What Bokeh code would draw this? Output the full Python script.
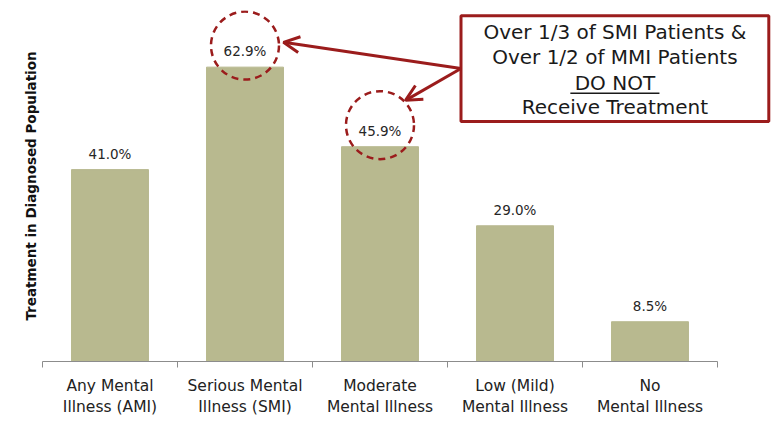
from bokeh.plotting import figure
from bokeh.models import Range1d, FixedTicker, Arrow, OpenHead
from bokeh.core.properties import value
from bokeh.embed import file_html
from bokeh.resources import INLINE

categories = ["Any Mental\nIllness (AMI)", "Serious Mental\nIllness (SMI)",
              "Moderate\nMental Illness", "Low (Mild)\nMental Illness", "No\nMental Illness"]
values = [41.0, 62.9, 45.9, 29.0, 8.5]
value_labels = ["41.0%", "62.9%", "45.9%", "29.0%", "8.5%"]
highlighted = [1, 2]
callout_lines = ["Over 1/3 of SMI Patients &", "Over 1/2 of MMI Patients", "DO NOT", "Receive Treatment"]
y_label = "Treatment in Diagnosed Population"

FONT = "DejaVu Sans"
RED = "#9B1C1C"
BAR = "#B8B98F"

n = len(categories)
xs = [i + 1 for i in range(n)]

p = figure(width=771, height=419, x_range=Range1d(0.5, 5.9), y_range=Range1d(0, 75),
           output_backend="svg", toolbar_location=None,
           min_border_top=10, min_border_bottom=58, min_border_left=42, min_border_right=0)
p.outline_line_color = None
p.xgrid.visible = False
p.ygrid.visible = False

p.vbar(x=xs, top=values, width=0.57, color=BAR)
p.text(x=xs, y=values, text=value_labels, y_offset=-16, text_align="center",
       text_baseline="middle", text_font=value(FONT), text_font_size="13.5px", text_color="#262626")

# highlight circles
hx = [xs[i] for i in highlighted]
hy = [values[i] + 4.6 for i in highlighted]
p.scatter(x=hx, y=hy, size=68, marker="circle", fill_color=None, line_color=RED,
          line_width=2.5, line_dash="7 5")

# callout box
box_l, box_r, box_b, box_t = 3.60, 5.88, 51.3, 73.9
p.quad(left=[box_l], right=[box_r], bottom=[box_b], top=[box_t], fill_color="white",
       line_color=RED, line_width=3)
cx = (box_l + box_r) / 2
line_y = [70.3, 65.0, 59.6, 54.3]
p.text(x=[cx] * 4, y=line_y, text=callout_lines, text_align="center", text_baseline="middle",
       text_font=value(FONT), text_font_size="20px", text_color="#1a1a1a")
p.segment(x0=[cx - 0.33], x1=[cx + 0.33], y0=[57.3], y1=[57.3], line_color="#1a1a1a", line_width=1.5)

# arrows
sx, sy = box_l, 62.6
for ex, ey in [(2.285, 68.2), (3.189, 55.8)]:
    p.add_layout(Arrow(x_start=sx, y_start=sy, x_end=ex, y_end=ey, line_color=RED, line_width=3,
                       end=OpenHead(size=16, line_color=RED, line_width=3)))

# x axis
ax = p.xaxis[0]
ax.ticker = FixedTicker(ticks=xs, minor_ticks=[x - 0.5 for x in xs] + [xs[-1] + 0.5])
ax.major_label_overrides = {x: c for x, c in zip(xs, categories)}
ax.bounds = (0.5, n + 0.5)
ax.major_tick_out = 0
ax.major_tick_in = 0
ax.minor_tick_out = 6
ax.minor_tick_in = 0
ax.axis_line_color = "#8c8c8c"
ax.minor_tick_line_color = "#8c8c8c"
ax.major_label_standoff = 9
ax.major_label_text_font = FONT
ax.major_label_text_font_size = "15.5px"
ax.major_label_text_color = "#222222"

# y axis (label only)
ay = p.yaxis[0]
ay.ticker = FixedTicker(ticks=[])
ay.axis_label = y_label
ay.axis_label_text_font = FONT
ay.axis_label_text_font_style = "bold"
ay.axis_label_text_font_size = "13.5px"
ay.axis_label_text_color = "#111111"
ay.axis_label_standoff = 4
ay.major_tick_out = 0
ay.major_tick_in = 0
ay.minor_tick_out = 0
ay.minor_tick_in = 0
ay.axis_line_color = None

open("out.html", "w").write(file_html(p, INLINE))
